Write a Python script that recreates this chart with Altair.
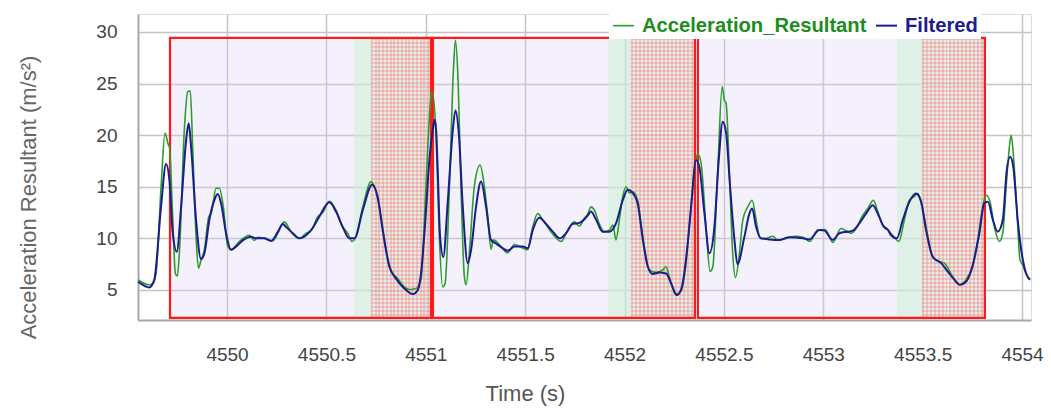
import altair as alt
import pandas as pd

# ---------------- data ----------------
raw_time = [4549.553, 4549.609, 4549.626, 4549.643, 4549.668, 4549.688, 4549.705, 4549.710,
            4549.727, 4549.740, 4549.750, 4549.760, 4549.785, 4549.802, 4549.815, 4549.827,
            4549.844, 4549.856, 4549.869, 4549.886, 4549.908, 4549.920, 4549.945, 4549.961,
            4549.981, 4550.004, 4550.020, 4550.062, 4550.112, 4550.137, 4550.154, 4550.188,
            4550.230, 4550.263, 4550.288, 4550.297, 4550.322, 4550.364, 4550.398, 4550.423,
            4550.456, 4550.482, 4550.515, 4550.548, 4550.582, 4550.607, 4550.629, 4550.649,
            4550.683, 4550.725, 4550.741, 4550.775, 4550.800, 4550.825, 4550.859, 4550.892,
            4550.917, 4550.951, 4550.976, 4550.993, 4551.010, 4551.026, 4551.032, 4551.052,
            4551.068, 4551.085, 4551.097, 4551.119, 4551.139, 4551.149, 4551.161, 4551.177,
            4551.194, 4551.203, 4551.219, 4551.244, 4551.273, 4551.295, 4551.312, 4551.328,
            4551.340, 4551.370, 4551.412, 4551.446, 4551.479, 4551.513, 4551.538, 4551.563,
            4551.588, 4551.630, 4551.681, 4551.714, 4551.747, 4551.773, 4551.798, 4551.816,
            4551.831, 4551.848, 4551.873, 4551.898, 4551.924, 4551.941, 4551.957, 4551.974,
            4551.991, 4552.008, 4552.024, 4552.041, 4552.066, 4552.083, 4552.105, 4552.125,
            4552.159, 4552.192, 4552.209, 4552.225, 4552.256, 4552.276, 4552.301, 4552.326,
            4552.351, 4552.368, 4552.385, 4552.410, 4552.430, 4552.444, 4552.469, 4552.491,
            4552.502, 4552.511, 4552.527, 4552.544, 4552.558, 4552.578, 4552.595, 4552.620,
            4552.642, 4552.662, 4552.682, 4552.712, 4552.746, 4552.771, 4552.813, 4552.863,
            4552.897, 4552.933, 4552.972, 4553.010, 4553.048, 4553.089, 4553.114, 4553.140,
            4553.173, 4553.190, 4553.224, 4553.252, 4553.274, 4553.307, 4553.326, 4553.349,
            4553.380, 4553.408, 4553.433, 4553.458, 4553.475, 4553.492, 4553.517, 4553.551,
            4553.584, 4553.609, 4553.651, 4553.685, 4553.718, 4553.752, 4553.777, 4553.802,
            4553.819, 4553.839, 4553.861, 4553.886, 4553.903, 4553.920, 4553.933, 4553.945,
            4553.956, 4553.973, 4553.990, 4554.004, 4554.020, 4554.040]
raw_value = [5.97, 5.5, 5.6, 6.6, 15.0, 20.2, 19.05, 18.9,
             11.8, 6.6, 6.35, 8.55, 20.5, 24.2, 24.3, 18.9,
             10.2, 7.1, 7.9, 8.9, 12.1, 12.4, 14.85, 14.85,
             13.1, 9.2, 8.9, 9.7, 10.3, 9.8, 10.1, 10.0,
             9.75, 10.8, 11.6, 11.45, 10.65, 10.0, 10.5, 10.75,
             12.1, 12.5, 13.6, 12.75, 11.1, 10.5, 9.7, 10.2,
             13.05, 15.5, 15.0, 12.1, 8.9, 6.9, 6.1, 5.3,
             5.05, 5.15, 6.0, 11.8, 18.9, 23.75, 24.2, 19.8,
             10.2, 5.3, 5.6, 15.0, 26.3, 29.2, 26.0, 15.0,
             6.3, 5.5, 8.55, 15.0, 17.1, 15.0, 12.1, 8.95,
             9.85, 9.4, 8.6, 9.4, 9.15, 8.9, 11.1, 12.4,
             11.8, 10.65, 9.7, 10.8, 11.6, 11.2, 11.95, 12.4,
             13.05, 12.75, 11.4, 10.65, 10.8, 11.3, 9.85, 11.8,
             14.05, 15.0, 14.4, 14.5, 13.7, 11.45, 8.55, 6.95,
             6.7, 6.95, 7.25, 6.3, 4.6, 4.7, 6.3, 11.1,
             16.6, 18.2, 17.3, 11.1, 6.8, 7.25, 16.6, 24.7,
             23.4, 23.1, 16.6, 8.55, 6.2, 8.55, 11.8, 13.05,
             13.7, 11.8, 10.0, 10.0, 10.2, 9.8, 10.0, 10.2,
             10.1, 9.7, 10.8, 10.85, 9.6, 10.95, 10.75, 10.5,
             11.2, 11.95, 12.9, 13.7, 12.6, 11.0, 10.8, 10.3,
             9.7, 11.8, 13.7, 14.05, 14.35, 13.55, 11.1, 8.2,
             7.75, 7.6, 6.3, 5.5, 6.0, 7.4, 9.85, 13.05,
             14.2, 13.55, 11.1, 9.7, 10.5, 15.0, 18.2, 20.0,
             18.2, 13.05, 7.9, 7.4, 6.6, 6.0]

filt_time = [4549.553, 4549.609, 4549.634, 4549.668, 4549.693, 4549.710, 4549.727, 4549.747,
             4549.769, 4549.794, 4549.807, 4549.819, 4549.844, 4549.869, 4549.886, 4549.911,
             4549.936, 4549.953, 4549.970, 4549.995, 4550.020, 4550.045, 4550.079, 4550.121,
             4550.146, 4550.188, 4550.221, 4550.255, 4550.280, 4550.297, 4550.331, 4550.364,
             4550.398, 4550.431, 4550.464, 4550.515, 4550.548, 4550.582, 4550.615, 4550.641,
             4550.683, 4550.730, 4550.758, 4550.783, 4550.817, 4550.850, 4550.892, 4550.934,
             4550.960, 4550.976, 4550.998, 4551.018, 4551.035, 4551.044, 4551.052, 4551.060,
             4551.072, 4551.088, 4551.110, 4551.136, 4551.149, 4551.166, 4551.186, 4551.211,
             4551.228, 4551.253, 4551.278, 4551.303, 4551.328, 4551.353, 4551.387, 4551.412,
             4551.446, 4551.488, 4551.513, 4551.538, 4551.571, 4551.605, 4551.639, 4551.675,
             4551.706, 4551.739, 4551.773, 4551.798, 4551.816, 4551.831, 4551.857, 4551.890,
             4551.924, 4551.957, 4551.991, 4552.016, 4552.041, 4552.066, 4552.092, 4552.117,
             4552.142, 4552.175, 4552.209, 4552.234, 4552.263, 4552.284, 4552.309, 4552.335,
             4552.360, 4552.376, 4552.402, 4552.427, 4552.452, 4552.474, 4552.494, 4552.511,
             4552.531, 4552.553, 4552.568, 4552.603, 4552.628, 4552.642, 4552.662, 4552.687,
             4552.729, 4552.779, 4552.829, 4552.897, 4552.930, 4552.980, 4553.005, 4553.048,
             4553.081, 4553.123, 4553.148, 4553.181, 4553.215, 4553.249, 4553.274, 4553.299,
             4553.326, 4553.341, 4553.370, 4553.400, 4553.433, 4553.467, 4553.492, 4553.517,
             4553.551, 4553.593, 4553.626, 4553.659, 4553.688, 4553.718, 4553.752, 4553.785,
             4553.810, 4553.828, 4553.853, 4553.878, 4553.903, 4553.923, 4553.940, 4553.956,
             4553.978, 4554.004, 4554.020, 4554.040]
filt_value = [5.8, 5.25, 6.0, 13.1, 17.2, 15.65, 10.5, 8.7,
              13.1, 19.5, 21.15, 18.9, 11.8, 8.0, 8.55, 11.8,
              13.7, 14.3, 13.4, 10.5, 8.9, 9.2, 9.8, 10.15,
              10.0, 10.0, 9.75, 10.6, 11.4, 11.1, 10.5, 10.0,
              10.3, 11.0, 12.1, 13.5, 12.6, 11.1, 10.0, 10.0,
              12.75, 15.2, 14.0, 10.8, 7.25, 6.1, 5.15, 4.6,
              5.0, 6.6, 11.8, 17.6, 20.5, 21.5, 20.5, 16.6,
              10.15, 8.2, 13.4, 20.5, 22.4, 20.2, 13.1, 7.6,
              8.9, 13.1, 15.5, 13.1, 9.85, 9.5, 9.05, 8.8,
              9.2, 9.2, 9.05, 10.8, 12.0, 11.4, 10.65, 10.0,
              10.5, 11.4, 11.5, 11.85, 12.25, 12.6, 11.8, 10.65,
              10.65, 11.45, 13.7, 14.7, 14.4, 13.4, 9.85, 7.25,
              6.55, 6.7, 6.6, 5.65, 4.5, 5.0, 7.9, 13.1,
              17.6, 16.95, 12.4, 8.55, 11.1, 17.6, 21.3, 20.2,
              15.0, 9.85, 7.5, 10.15, 12.4, 12.9, 11.1, 10.0,
              9.9, 9.85, 10.1, 10.0, 9.9, 10.8, 10.75, 9.85,
              10.5, 10.65, 10.75, 11.45, 12.4, 13.2, 12.4, 11.3,
              10.8, 10.3, 10.0, 11.8, 13.55, 14.35, 13.55, 10.8,
              8.2, 7.6, 6.8, 6.0, 5.5, 5.8, 7.4, 10.5,
              13.4, 13.55, 11.8, 10.65, 11.8, 16.6, 17.9, 16.9,
              11.8, 7.9, 6.6, 6.0]

series_names = ["Acceleration_Resultant", "Filtered"]
series_colors = ["#2c9c2c", "#1c1c8c"]

box_start = [4549.713, 4551.036, 4552.369]
box_end = [4551.026, 4552.354, 4553.813]
box_low = [2.29, 2.29, 2.29]
box_high = [29.42, 29.42, 29.42]
green_start = [4550.639, 4551.917, 4553.370]
green_end = [4550.724, 4552.032, 4553.496]
hatch_start = [4550.724, 4552.032, 4553.496]
hatch_end = [4551.026, 4552.354, 4553.813]

x_ticks = [4550, 4550.5, 4551, 4551.5, 4552, 4552.5, 4553, 4553.5, 4554]
y_ticks = [5, 10, 15, 20, 25, 30]
x_domain = [4549.552, 4554.045]
y_domain = [2.09, 31.74]

FONT = "Liberation Sans"

# ---------------- tables ----------------
lines_df = pd.concat([
    pd.DataFrame({"t": raw_time, "v": raw_value, "series": series_names[0]}),
    pd.DataFrame({"t": filt_time, "v": filt_value, "series": series_names[1]}),
], ignore_index=True)

boxes_df = pd.DataFrame({"x": box_start, "x2": box_end, "y": box_low, "y2": box_high})
green_df = pd.DataFrame({"x": green_start, "x2": green_end, "y": box_low, "y2": box_high})
hatch_df = pd.DataFrame({"x": hatch_start, "x2": hatch_end, "y": box_low, "y2": box_high})


# ---------------- hatch texture (style only: striped gradients) ----------------
def stripe_gradient(n_periods, horizontal, color_on, color_off, duty=0.5):
    stops = []
    for k in range(n_periods):
        a = k / n_periods
        b = (k + duty) / n_periods
        c = (k + 1) / n_periods
        stops += [alt.GradientStop(offset=a, color=color_on),
                  alt.GradientStop(offset=b, color=color_on),
                  alt.GradientStop(offset=b, color=color_off),
                  alt.GradientStop(offset=c, color=color_off)]
    if horizontal:
        return alt.LinearGradient(gradient="linear", stops=stops, x1=0, x2=1, y1=0, y2=0)
    return alt.LinearGradient(gradient="linear", stops=stops, x1=0, x2=0, y1=0, y2=1)


red_on = "rgba(236,105,105,0.27)"
red_off = "rgba(236,105,105,0)"

xs = alt.Scale(domain=x_domain, nice=False, zero=False)
ys = alt.Scale(domain=y_domain, nice=False, zero=False)

x_axis = alt.Axis(values=x_ticks, format=".1~f", title="Time (s)", ticks=False,
                  labelFont=FONT, labelFontSize=19, labelColor="#444444", labelPadding=25,
                  titleFont=FONT, titleFontSize=22, titleFontWeight="normal", titleColor="#555555",
                  titleX=387, titleY=73, titleBaseline="middle", titleAlign="center",
                  gridColor="#c4c4c4", gridWidth=1.5,
                  domainColor="#a8a8a8", domainWidth=2, labelFlush=False)
y_axis = alt.Axis(values=y_ticks, format="d", title="Acceleration Resultant (m/s²)", ticks=False,
                  labelFont=FONT, labelFontSize=19, labelColor="#444444", labelPadding=21,
                  titleFont=FONT, titleFontSize=22, titleFontWeight="normal", titleColor="#666666",
                  titleX=-110, titleY=183, titleBaseline="middle", titleAlign="center", titleAngle=270,
                  gridColor="#c4c4c4", gridWidth=1.5,
                  domainColor="#a8a8a8", domainWidth=2)


def region(df, **mark):
    return alt.Chart(df).mark_rect(**mark).encode(
        x=alt.X("x:Q", scale=xs), x2="x2:Q", y=alt.Y("y:Q", scale=ys), y2="y2:Q")


box_fill = alt.Chart(boxes_df).mark_rect(fill="#d9cff5", fillOpacity=0.3).encode(
    x=alt.X("x:Q", scale=xs, axis=x_axis), x2="x2:Q",
    y=alt.Y("y:Q", scale=ys, axis=y_axis), y2="y2:Q")

green_fill = region(green_df, fill="#cdf0d3", fillOpacity=0.55)
hatch_base = region(hatch_df, fill="#e6ece2", fillOpacity=0.75)
hatch_v = region(hatch_df, fill=stripe_gradient(16, True, red_on, red_off))
hatch_h = region(hatch_df, fill=stripe_gradient(70, False, red_on, red_off))
box_border = region(boxes_df, fillOpacity=0, stroke="#ff1a1a", strokeWidth=2.2)

legend = alt.Legend(
    title=None, orient="none", direction="horizontal", legendX=471, legendY=-3,
    symbolType="stroke", symbolSize=441, symbolStrokeWidth=2.8,
    labelFont=FONT, labelFontSize=20.2, labelFontWeight="bold",
    labelColor={"expr": "datum.label == 'Filtered' ? '#1c1c8c' : '#1e8c1e'"},
    labelOffset=7, columnPadding=5, fillColor="white", padding=3, labelLimit=400)

lines = alt.Chart(lines_df).mark_line(interpolate="monotone").encode(
    x=alt.X("t:Q", scale=xs),
    y=alt.Y("v:Q", scale=ys),
    color=alt.Color("series:N", scale=alt.Scale(domain=series_names, range=series_colors), legend=legend),
    strokeWidth=alt.StrokeWidth("series:N", scale=alt.Scale(domain=series_names, range=[1.6, 2.0]), legend=None),
)

chart = alt.layer(box_fill, green_fill, hatch_base, hatch_v, hatch_h, box_border, lines).properties(
    width=893, height=306,
    autosize=alt.AutoSizeParams(type="none"),
    padding={"left": 138, "top": 14, "right": 20, "bottom": 88},
).configure_view(stroke=None).configure(background="white")

chart.save("out.html", embed_options={"renderer": "svg", "actions": False})
